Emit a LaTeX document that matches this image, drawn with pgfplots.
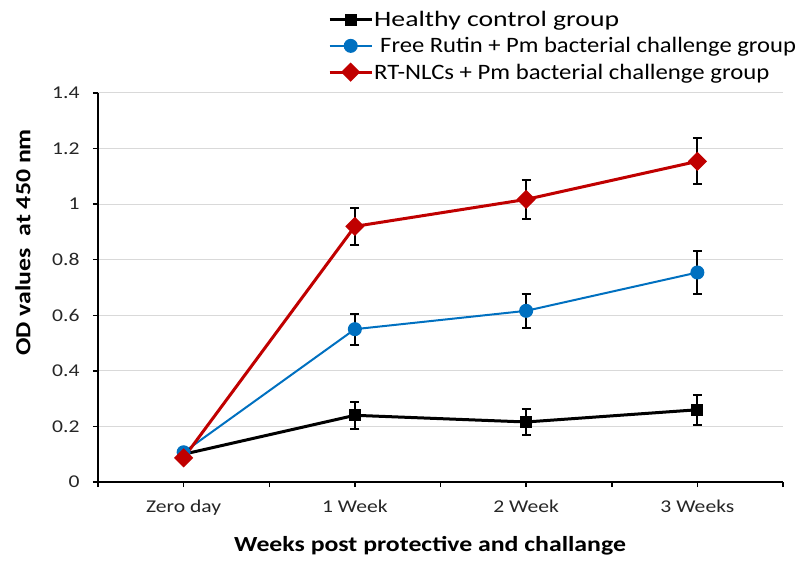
\documentclass[border=0pt]{standalone}
\usepackage{pgfplots}
\pgfplotsset{compat=1.18}
\usepackage{fontspec}
\setmainfont{Carlito}[FakeStretch=1.2]
\definecolor{myblue}{HTML}{0070C0}
\definecolor{myred}{HTML}{C00000}
\definecolor{gridc}{HTML}{D9D9D9}
\begin{document}
\begin{tikzpicture}
\useasboundingbox (0,0) rectangle (798pt,560pt);
\begin{axis}[
  at={(98pt,78pt)}, anchor=south west,
  scale only axis, width=685pt, height=389pt,
  xmin=-0.5, xmax=3.5, ymin=0, ymax=1.4,
  axis x line=bottom, axis y line=left,
  axis line style={-, line width=1.5pt, black},
  xtick={0,1,2,3}, xticklabels={Zero day,1 Week,2 Week,3 Weeks},
  minor xtick={-0.5,0.5,1.5,2.5,3.5},
  ytick={0,0.2,0.4,0.6,0.8,1,1.2,1.4},
  yticklabels={0,0.2,0.4,0.6,0.8,1,1.2,1.4},
  /pgf/number format/assume math mode=true,
  tick align=outside,
  major tick length=5pt, minor tick length=5pt,
  tick style={black, line width=1.5pt},
  ymajorgrids, grid style={gridc, line width=1pt},
  tick label style={font=\fontsize{18}{20}\selectfont, text=black!85},
  yticklabel style={xshift=-10pt},
  xticklabel style={yshift=-9pt},
  xlabel={Weeks post protective and challange},
  ylabel={OD values\ \ at 450 nm},
  xlabel style={at={(axis description cs:0.4847,-0.1645)}, anchor=center, font=\bfseries\fontsize{21.5}{24}\selectfont},
  ylabel style={at={(axis description cs:-0.1095,0.616)}, anchor=center, font=\bfseries\fontsize{21.5}{24}\selectfont},
  legend style={at={(axis description cs:0.3314,1.2185)}, anchor=north west, draw=none, fill=none,
    font=\fontsize{22}{25}\selectfont, cells={anchor=west}, row sep=7.5pt,
    nodes={inner sep=1pt}},
  legend image code/.code={\draw[mark repeat=2,mark phase=2] plot coordinates {(0pt,0pt)(21pt,0pt)(42pt,0pt)};},
  error bars/y dir=both, error bars/y explicit,
  error bars/error bar style={black, line width=2pt},
  error bars/error mark options={rotate=90, mark size=4.5pt, line width=2pt, black},
]
\addplot[black, line width=3pt, mark=square*, mark size=4.5pt, mark options={solid}]
  table[x=x, y=y, y error=e] {
x y e
0 0.100 0
1 0.240 0.048
2 0.216 0.046
3 0.260 0.054
};
\addlegendentry{\scalebox{1.05}[1]{Healthy control group}}
\addplot[myblue, line width=2pt, mark=*, mark size=6pt, mark options={solid}]
  table[x=x, y=y, y error=e] {
x y e
0 0.107 0
1 0.550 0.056
2 0.616 0.062
3 0.754 0.077
};
\addlegendentry{\hspace{6pt}\scalebox{0.932}[1]{Free Rutin + Pm bacterial challenge group}}
\addplot[myred, line width=3pt, mark=square*, mark size=5.3pt, mark options={solid, rotate=45}]
  table[x=x, y=y, y error=e] {
x y e
0 0.087 0
1 0.920 0.066
2 1.017 0.071
3 1.154 0.083
};
\addlegendentry{\scalebox{0.938}[1]{RT-NLCs + Pm bacterial challenge group}}
\end{axis}
\end{tikzpicture}
\end{document}
